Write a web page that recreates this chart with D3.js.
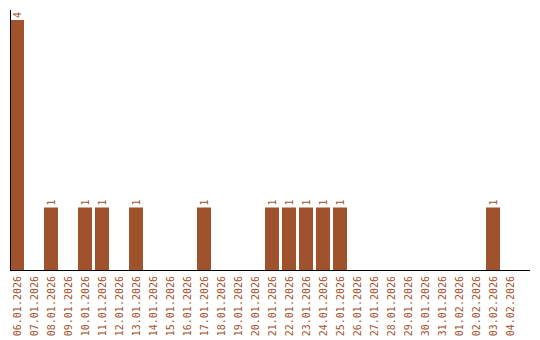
<!DOCTYPE html>
<html>
<head>
<meta charset="utf-8">
<script src="https://cdn.jsdelivr.net/npm/d3@7"></script>
<style>
  body { margin: 0; background: #fff; }
  svg text { font-family: "DejaVu Sans Mono", monospace; font-size: 10px; fill: #a0522d; }
</style>
</head>
<body>
<svg id="chart"></svg>
<script>
// Dates shown on the x axis
var dates = [
  '06.01.2026', '07.01.2026', '08.01.2026', '09.01.2026', '10.01.2026',
  '11.01.2026', '12.01.2026', '13.01.2026', '14.01.2026', '15.01.2026',
  '16.01.2026', '17.01.2026', '18.01.2026', '19.01.2026', '20.01.2026',
  '21.01.2026', '22.01.2026', '23.01.2026', '24.01.2026', '25.01.2026',
  '26.01.2026', '27.01.2026', '28.01.2026', '29.01.2026', '30.01.2026',
  '31.01.2026', '01.02.2026', '02.02.2026', '03.02.2026', '04.02.2026'
];
// Count for each date
var counts = [4, 0, 1, 0, 1, 1, 0, 1, 0, 0, 0, 1, 0, 0, 0, 1, 1, 1, 1, 1, 0, 0, 0, 0, 0, 0, 0, 0, 1, 0];

var width = 540;
var height = 340;
var left = 10;
var baseY = 270;
var topY = 10;
var barColor = '#a0522d';

var data = dates.map(function(d, i) {
  return { date: d, count: counts[i] };
});

var svg = d3.select('#chart')
  .attr('width', width)
  .attr('height', height);

// 17px per day, 14px bars, 3px gap
var x = d3.scaleBand()
  .domain(dates)
  .range([left, left + dates.length * 17 - 3])
  .paddingInner(3 / 17)
  .paddingOuter(0)
  .align(0);

var y = d3.scaleLinear()
  .domain([0, 4.16])
  .range([baseY, topY]);

// Bars
svg.selectAll('.bar')
  .data(data.filter(function(d) { return d.count > 0; }))
  .enter()
  .append('rect')
  .attr('class', 'bar')
  .attr('x', function(d) { return x(d.date); })
  .attr('y', function(d) { return y(d.count); })
  .attr('width', x.bandwidth())
  .attr('height', function(d) { return baseY - y(d.count); })
  .attr('fill', barColor);

// Value labels above bars
svg.selectAll('.val')
  .data(data.filter(function(d) { return d.count > 0; }))
  .enter()
  .append('text')
  .attr('class', 'val')
  .attr('transform', function(d) {
    return 'translate(' + (x(d.date) + x.bandwidth() / 2 + 3.5) + ',' + (y(d.count) - 2) + ') rotate(-90)';
  })
  .text(function(d) { return d.count; });

// X axis labels
svg.selectAll('.xlab')
  .data(dates)
  .enter()
  .append('text')
  .attr('class', 'xlab')
  .attr('text-anchor', 'end')
  .attr('transform', function(d) {
    return 'translate(' + (x(d) + x.bandwidth() / 2 + 3.5) + ',' + (baseY + 6) + ') rotate(-90)';
  })
  .text(function(d) { return d; });

// Axis lines
svg.append('line')
  .attr('x1', left + 0.5).attr('x2', left + 0.5)
  .attr('y1', topY).attr('y2', baseY)
  .attr('stroke', '#000');

svg.append('line')
  .attr('x1', left).attr('x2', 530)
  .attr('y1', baseY + 0.5).attr('y2', baseY + 0.5)
  .attr('stroke', '#000');
</script>
</body>
</html>
